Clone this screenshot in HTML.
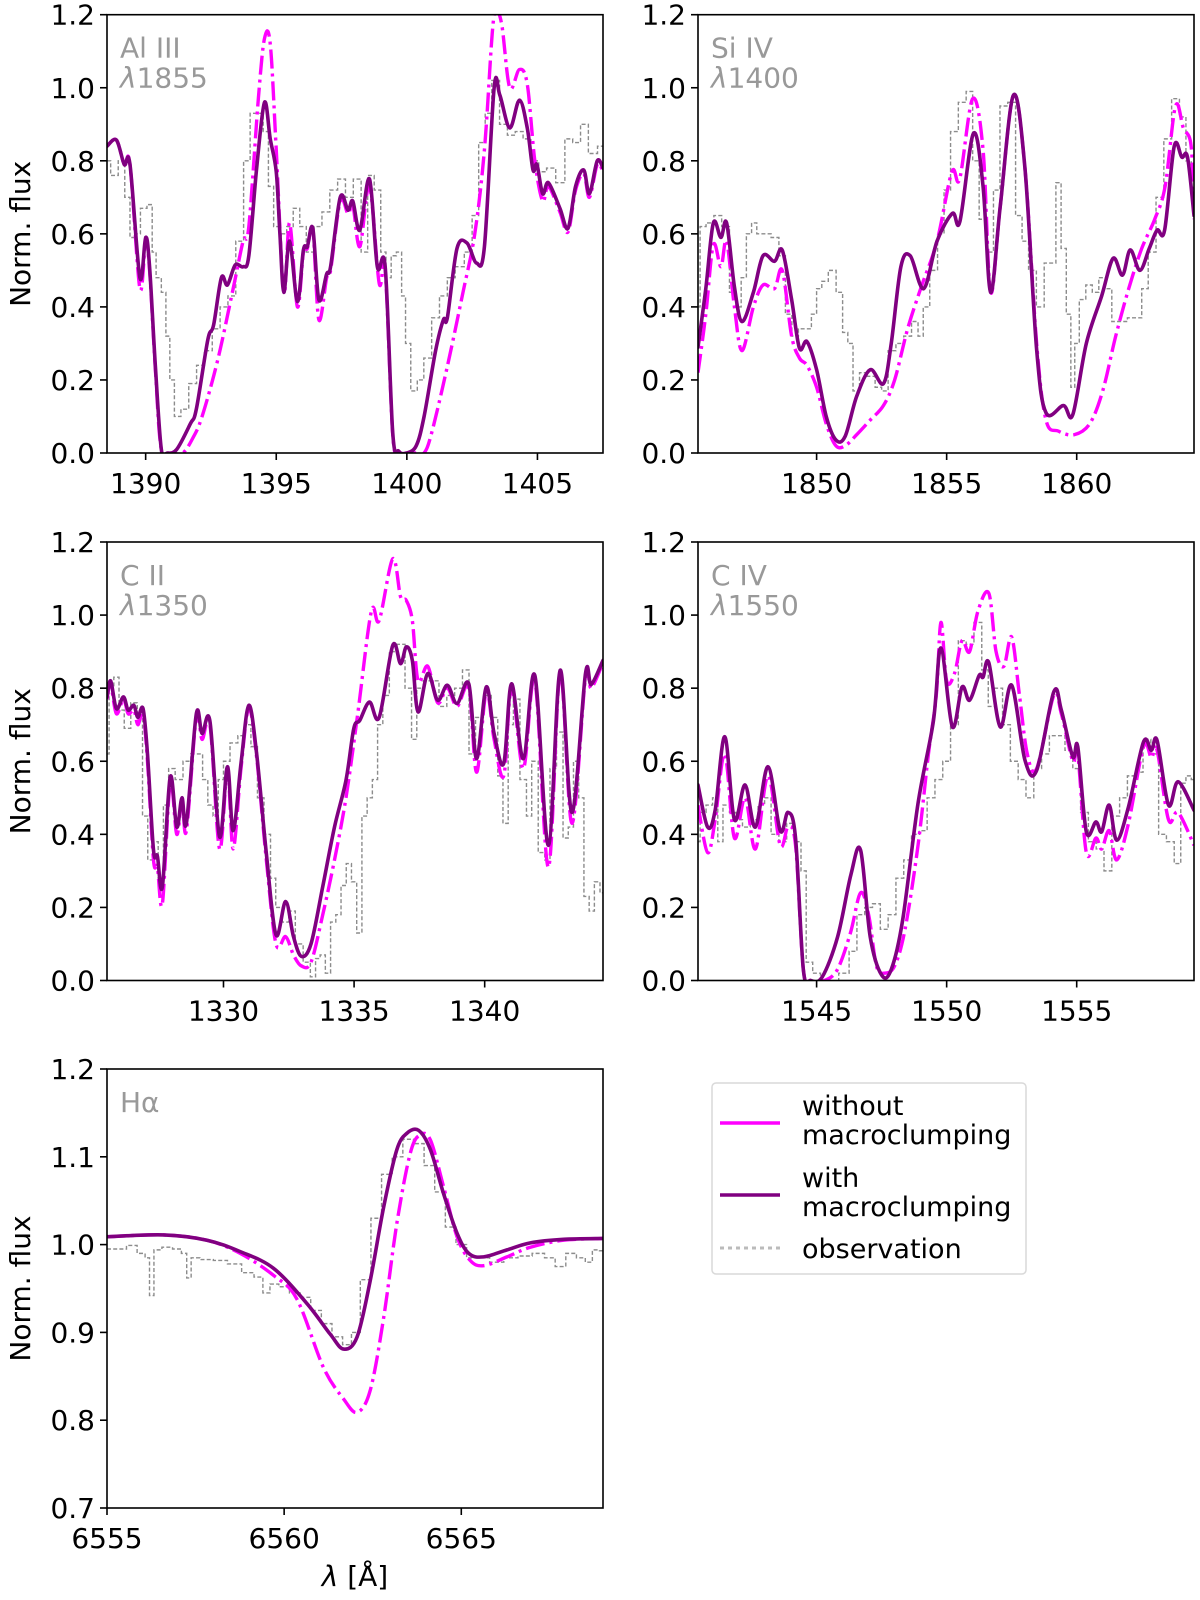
<!DOCTYPE html>
<html><head><meta charset="utf-8">
<style>
html,body{margin:0;padding:0;background:#fff;}
svg{display:block;font-family:"DejaVu Sans","Liberation Sans",sans-serif;}
</style></head>
<body>
<svg id="fig" width="1200" height="1600" viewBox="0 0 1200 1600" xmlns="http://www.w3.org/2000/svg">
<g id="legend">
<rect x="712" y="1083" width="314" height="191" rx="4" fill="#fff" stroke="#d9d9d9" stroke-width="1.5"/>
<line x1="720" y1="1123" x2="780" y2="1123" stroke="#ff00ff" stroke-width="3.5"/>
<text x="802" y="1115" font-size="27" fill="#000">without</text>
<text x="802" y="1144" font-size="27" fill="#000">macroclumping</text>
<line x1="720" y1="1195" x2="780" y2="1195" stroke="#800080" stroke-width="3.5"/>
<text x="802" y="1187" font-size="27" fill="#000">with</text>
<text x="802" y="1216" font-size="27" fill="#000">macroclumping</text>
<line x1="720" y1="1248" x2="780" y2="1248" stroke="#bbb" stroke-width="3" stroke-dasharray="4,4"/>
<text x="802" y="1258" font-size="27" fill="#000">observation</text>
</g>
<text x="355" y="1586" font-size="28" text-anchor="middle"><tspan font-style="italic">λ</tspan> [Å]</text>
</svg>
<script>
// ---------- Panel 1 ----------
const p1Wave = [1388.52,1388.88,1389.18,1389.4,1389.78,1390.0,1390.15,1390.37,1390.6,1390.82,1391.19,1391.71,1391.94,1392.38,1392.6,1392.9,1393.13,1393.43,1393.73,1393.95,1394.25,1394.55,1394.77,1395.0,1395.14,1395.29,1395.51,1395.81,1396.04,1396.19,1396.4,1396.63,1396.93,1397.08,1397.45,1397.75,1397.93,1398.2,1398.57,1398.87,1399.17,1399.46,1399.69,1399.99,1400.36,1400.66,1401.1,1401.4,1401.55,1401.92,1402.3,1402.67,1402.97,1403.34,1403.56,1403.94,1404.31,1404.61,1404.83,1404.98,1405.2,1405.42,1405.86,1406.17,1406.46,1406.77,1406.99,1407.29,1407.51];
const p1With = [0.84,0.857,0.79,0.79,0.48,0.59,0.51,0.24,0.01,0.0,0.01,0.08,0.12,0.31,0.35,0.48,0.46,0.515,0.51,0.54,0.78,0.96,0.86,0.77,0.60,0.44,0.58,0.415,0.556,0.565,0.615,0.42,0.49,0.51,0.70,0.665,0.69,0.61,0.75,0.51,0.51,0.055,0.005,0.0,0.02,0.10,0.28,0.365,0.37,0.56,0.575,0.52,0.565,0.998,0.98,0.89,0.966,0.89,0.775,0.79,0.71,0.74,0.67,0.615,0.73,0.775,0.71,0.80,0.78];
const p1WaveNo = [1388.52,1388.88,1389.18,1389.4,1389.78,1390.0,1390.15,1390.37,1390.6,1391.0,1391.42,1391.8,1392.16,1392.76,1393.35,1393.73,1393.95,1394.32,1394.55,1394.77,1395.0,1395.29,1395.51,1395.81,1396.04,1396.19,1396.4,1396.63,1396.93,1397.08,1397.45,1397.75,1397.93,1398.2,1398.57,1398.94,1399.17,1399.46,1399.69,1400.0,1400.36,1400.66,1400.95,1401.55,1402.15,1402.6,1402.97,1403.27,1403.42,1403.64,1403.94,1404.31,1404.61,1404.9,1405.2,1405.42,1405.86,1406.17,1406.46,1406.77,1406.99,1407.29,1407.51];
const p1Without = [0.84,0.857,0.79,0.79,0.45,0.58,0.50,0.23,0.01,0.0,0.0,0.04,0.10,0.255,0.45,0.58,0.62,0.975,1.135,1.12,0.83,0.44,0.63,0.40,0.55,0.56,0.61,0.365,0.48,0.50,0.69,0.655,0.68,0.565,0.73,0.465,0.50,0.05,0.0,0.0,0.0,0.0,0.055,0.237,0.44,0.60,0.83,1.15,1.21,1.17,1.0,1.05,1.01,0.80,0.69,0.73,0.66,0.605,0.72,0.765,0.70,0.79,0.77];
const p1ObsWave = [1388.52,1388.8,1389.1,1389.3,1389.5,1389.7,1389.9,1390.2,1390.3,1390.5,1390.7,1390.85,1391.0,1391.2,1391.5,1391.8,1392.1,1392.4,1392.7,1393.0,1393.3,1393.6,1393.9,1394.1,1394.4,1394.6,1394.8,1395.0,1395.3,1395.5,1395.8,1396.0,1396.3,1396.6,1396.9,1397.2,1397.5,1397.8,1398.1,1398.4,1398.6,1398.9,1399.1,1399.3,1399.5,1399.7,1399.9,1400.0,1400.3,1400.5,1400.8,1401.1,1401.4,1401.7,1402.0,1402.4,1402.6,1402.9,1403.1,1403.4,1403.7,1404.0,1404.3,1404.6,1404.9,1405.2,1405.5,1405.9,1406.2,1406.5,1406.8,1407.1,1407.5];
const p1Obs = [0.80,0.76,0.80,0.70,0.59,0.60,0.67,0.68,0.55,0.48,0.44,0.32,0.20,0.10,0.12,0.19,0.24,0.28,0.34,0.40,0.43,0.58,0.80,0.93,0.93,0.88,0.73,0.62,0.60,0.62,0.67,0.62,0.55,0.62,0.66,0.72,0.75,0.70,0.75,0.55,0.76,0.72,0.55,0.48,0.54,0.55,0.43,0.30,0.17,0.20,0.26,0.37,0.43,0.48,0.51,0.55,0.65,0.85,0.93,1.02,0.90,0.87,0.88,0.86,0.80,0.77,0.78,0.74,0.86,0.85,0.90,0.82,0.84];
const p1XTicks = [1390,1395,1400,1405];

// ---------- Panel 2 ----------
const p2Wave = [1845.44,1845.74,1846.03,1846.32,1846.54,1846.84,1847.13,1847.57,1847.94,1848.38,1848.68,1849.04,1849.34,1849.63,1850.0,1850.37,1850.74,1851.1,1851.54,1852.06,1852.57,1852.87,1853.24,1853.6,1854.12,1854.63,1855.22,1855.51,1856.03,1856.4,1856.69,1857.06,1857.57,1858.01,1858.46,1858.82,1859.49,1859.85,1860.37,1860.96,1861.4,1861.76,1862.06,1862.43,1862.79,1863.09,1863.38,1863.75,1864.04,1864.26,1864.51];
const p2With = [0.29,0.45,0.63,0.59,0.63,0.455,0.36,0.44,0.54,0.525,0.555,0.42,0.287,0.305,0.228,0.10,0.036,0.046,0.155,0.228,0.19,0.30,0.51,0.54,0.45,0.58,0.656,0.634,0.875,0.73,0.44,0.675,0.98,0.78,0.283,0.11,0.13,0.105,0.30,0.43,0.533,0.487,0.556,0.50,0.56,0.61,0.61,0.84,0.81,0.81,0.65];
const p2WaveNo = [1845.44,1845.74,1846.03,1846.32,1846.54,1846.84,1847.13,1847.57,1847.94,1848.38,1848.68,1849.04,1849.34,1849.63,1850.0,1850.37,1850.74,1851.1,1851.54,1852.06,1852.57,1853.0,1853.5,1854.0,1854.63,1855.2,1855.5,1856.0,1856.4,1856.69,1857.06,1857.57,1858.01,1858.46,1858.82,1859.3,1859.9,1860.5,1861.0,1861.5,1862.0,1862.5,1863.0,1863.4,1863.8,1864.1,1864.4,1864.51];
const p2Without = [0.22,0.38,0.57,0.51,0.58,0.40,0.28,0.40,0.46,0.45,0.50,0.32,0.26,0.24,0.18,0.08,0.02,0.02,0.05,0.09,0.13,0.20,0.34,0.45,0.58,0.77,0.75,0.97,0.83,0.44,0.675,0.98,0.78,0.30,0.09,0.06,0.05,0.08,0.17,0.32,0.45,0.56,0.64,0.73,0.95,0.89,0.84,0.64];
const p2ObsWave = [1845.44,1845.6,1845.9,1846.2,1846.5,1846.8,1847.0,1847.2,1847.4,1847.6,1847.8,1848.1,1848.4,1848.7,1848.9,1849.2,1849.4,1849.7,1849.9,1850.1,1850.3,1850.6,1850.9,1851.1,1851.3,1851.5,1851.8,1852.1,1852.4,1852.6,1852.9,1853.2,1853.5,1853.8,1854.0,1854.2,1854.5,1854.8,1855.0,1855.3,1855.6,1855.9,1856.1,1856.4,1856.7,1856.9,1857.2,1857.5,1857.8,1858.0,1858.3,1858.6,1858.9,1859.1,1859.3,1859.5,1859.7,1859.85,1860.0,1860.2,1860.5,1860.7,1861.0,1861.2,1861.5,1861.8,1862.1,1862.4,1862.6,1862.9,1863.2,1863.5,1863.8,1864.1,1864.3,1864.51];
const p2Obs = [0.40,0.62,0.63,0.65,0.62,0.44,0.40,0.48,0.60,0.63,0.60,0.60,0.59,0.54,0.38,0.32,0.34,0.34,0.38,0.45,0.47,0.50,0.44,0.33,0.30,0.17,0.22,0.21,0.18,0.17,0.28,0.30,0.32,0.36,0.32,0.40,0.50,0.60,0.72,0.88,0.96,0.99,0.80,0.64,0.55,0.72,0.95,0.96,0.65,0.58,0.50,0.40,0.52,0.52,0.74,0.56,0.38,0.18,0.30,0.42,0.46,0.44,0.48,0.45,0.36,0.36,0.37,0.37,0.45,0.55,0.70,0.86,0.97,0.92,0.80,0.70];
const p2XTicks = [1850,1855,1860];

// ---------- Panel 3 ----------
const p3Wave = [1325.54,1325.68,1325.9,1326.17,1326.35,1326.57,1326.72,1326.92,1327.09,1327.32,1327.47,1327.66,1327.96,1328.21,1328.41,1328.58,1328.96,1329.18,1329.48,1329.85,1330.15,1330.37,1330.67,1330.97,1331.27,1331.64,1332.01,1332.38,1332.68,1332.98,1333.35,1333.8,1334.25,1334.69,1334.99,1335.22,1335.59,1335.96,1336.48,1336.78,1337.0,1337.23,1337.45,1337.82,1338.2,1338.57,1338.94,1339.39,1339.69,1340.06,1340.36,1340.73,1341.03,1341.48,1341.92,1342.44,1342.89,1343.34,1343.86,1344.08,1344.53];
const p3With = [0.776,0.82,0.744,0.776,0.74,0.753,0.72,0.744,0.62,0.357,0.34,0.257,0.557,0.42,0.50,0.43,0.73,0.676,0.71,0.393,0.585,0.41,0.594,0.753,0.62,0.348,0.125,0.216,0.12,0.066,0.10,0.257,0.42,0.548,0.69,0.712,0.762,0.72,0.917,0.867,0.913,0.876,0.735,0.84,0.767,0.808,0.758,0.812,0.607,0.803,0.676,0.594,0.812,0.607,0.835,0.37,0.849,0.46,0.84,0.81,0.876];
const p3WaveNo = [1325.54,1325.68,1325.9,1326.17,1326.35,1326.57,1326.72,1326.92,1327.09,1327.32,1327.47,1327.66,1327.96,1328.21,1328.41,1328.58,1328.96,1329.18,1329.48,1329.85,1330.15,1330.37,1330.67,1330.97,1331.27,1331.64,1332.01,1332.38,1332.68,1332.98,1333.35,1333.8,1334.25,1334.69,1335.14,1335.66,1335.96,1336.48,1336.78,1337.0,1337.23,1337.45,1337.82,1338.2,1338.57,1338.94,1339.39,1339.69,1340.06,1340.36,1340.73,1341.03,1341.48,1341.92,1342.44,1342.89,1343.34,1343.86,1344.08,1344.53];
const p3Without = [0.77,0.81,0.73,0.77,0.73,0.74,0.70,0.73,0.60,0.33,0.31,0.21,0.54,0.40,0.49,0.41,0.72,0.66,0.70,0.36,0.575,0.36,0.58,0.745,0.61,0.33,0.10,0.12,0.07,0.04,0.05,0.18,0.33,0.50,0.73,1.01,0.985,1.154,1.05,1.04,0.985,0.82,0.86,0.76,0.80,0.75,0.80,0.57,0.79,0.66,0.56,0.80,0.58,0.82,0.31,0.84,0.43,0.83,0.80,0.87];
const p3ObsWave = [1325.54,1325.7,1325.9,1326.1,1326.3,1326.6,1326.8,1327.0,1327.2,1327.4,1327.6,1327.8,1328.0,1328.3,1328.6,1328.9,1329.1,1329.3,1329.5,1329.7,1329.9,1330.1,1330.4,1330.7,1330.9,1331.2,1331.4,1331.7,1331.9,1332.1,1332.4,1332.6,1332.9,1333.2,1333.45,1333.6,1333.8,1334.0,1334.2,1334.4,1334.6,1334.8,1335.0,1335.2,1335.4,1335.6,1335.8,1336.0,1336.2,1336.5,1336.8,1337.1,1337.3,1337.5,1337.8,1338.1,1338.4,1338.7,1339.0,1339.3,1339.5,1339.8,1340.1,1340.4,1340.6,1340.8,1341.0,1341.2,1341.5,1341.7,1341.9,1342.2,1342.4,1342.6,1342.9,1343.1,1343.3,1343.5,1343.7,1343.9,1344.1,1344.3,1344.53];
const p3Obs = [0.62,0.80,0.83,0.74,0.69,0.76,0.72,0.45,0.33,0.38,0.28,0.48,0.58,0.55,0.60,0.62,0.62,0.55,0.48,0.45,0.55,0.60,0.65,0.67,0.70,0.64,0.50,0.40,0.28,0.20,0.16,0.19,0.10,0.05,0.01,0.06,0.07,0.02,0.16,0.18,0.26,0.32,0.27,0.13,0.45,0.50,0.55,0.70,0.78,0.90,0.92,0.80,0.66,0.80,0.82,0.82,0.75,0.78,0.80,0.85,0.62,0.72,0.78,0.72,0.56,0.43,0.70,0.77,0.55,0.45,0.60,0.35,0.33,0.58,0.68,0.39,0.42,0.60,0.50,0.23,0.19,0.27,0.24];
const p3XTicks = [1330,1335,1340];

// ---------- Panel 4 ----------
const p4Wave = [1540.44,1540.81,1541.1,1541.47,1541.84,1542.25,1542.65,1543.13,1543.6,1543.9,1544.19,1544.49,1544.78,1545.22,1545.81,1546.32,1546.69,1547.06,1547.5,1547.87,1548.31,1548.9,1549.49,1549.78,1550.22,1550.59,1550.88,1551.25,1551.4,1551.62,1552.06,1552.5,1553.01,1553.46,1554.12,1554.41,1554.85,1555.04,1555.37,1555.74,1555.96,1556.25,1556.54,1556.99,1557.57,1557.87,1558.09,1558.53,1558.9,1559.51];
const p4With = [0.535,0.42,0.466,0.667,0.44,0.535,0.42,0.585,0.41,0.46,0.39,0.03,0.0,0.01,0.12,0.29,0.357,0.12,0.015,0.03,0.166,0.485,0.71,0.91,0.694,0.803,0.767,0.835,0.83,0.87,0.694,0.808,0.603,0.575,0.79,0.74,0.612,0.64,0.407,0.434,0.407,0.48,0.384,0.475,0.653,0.63,0.657,0.48,0.544,0.466];
const p4WaveNo = [1540.44,1540.81,1541.1,1541.47,1541.84,1542.25,1542.65,1543.13,1543.6,1543.9,1544.19,1544.49,1544.78,1545.3,1545.8,1546.3,1546.69,1547.0,1547.3,1547.6,1548.0,1548.4,1548.9,1549.3,1549.6,1549.78,1550.0,1550.3,1550.59,1550.88,1551.2,1551.62,1551.9,1552.2,1552.5,1552.8,1553.1,1553.46,1554.12,1554.41,1554.85,1555.04,1555.37,1555.74,1555.96,1556.25,1556.54,1556.99,1557.57,1557.87,1558.09,1558.53,1558.9,1559.51];
const p4Without = [0.48,0.35,0.44,0.62,0.39,0.50,0.36,0.56,0.37,0.42,0.37,0.03,0.0,0.0,0.03,0.13,0.24,0.18,0.04,0.02,0.04,0.14,0.37,0.62,0.78,0.98,0.82,0.84,0.93,0.90,1.01,1.06,0.90,0.86,0.94,0.78,0.62,0.58,0.78,0.73,0.60,0.62,0.35,0.39,0.36,0.41,0.33,0.43,0.64,0.61,0.63,0.44,0.46,0.37];
const p4ObsWave = [1540.44,1540.6,1540.9,1541.1,1541.3,1541.5,1541.8,1542.0,1542.3,1542.6,1542.9,1543.1,1543.4,1543.7,1544.0,1544.3,1544.5,1544.7,1545.0,1545.3,1545.6,1546.1,1546.4,1546.7,1547.0,1547.3,1547.6,1547.9,1548.2,1548.5,1548.8,1549.1,1549.4,1549.7,1550.0,1550.3,1550.6,1550.9,1551.2,1551.5,1551.7,1552.0,1552.3,1552.6,1552.9,1553.2,1553.5,1553.8,1554.1,1554.4,1554.7,1555.0,1555.3,1555.6,1555.9,1556.2,1556.5,1556.8,1557.1,1557.4,1557.7,1558.0,1558.3,1558.6,1558.9,1559.1,1559.3,1559.51];
const p4Obs = [0.38,0.46,0.48,0.50,0.38,0.48,0.46,0.44,0.42,0.44,0.48,0.50,0.40,0.38,0.43,0.38,0.30,0.05,0.02,0.0,-0.05,0.02,0.08,0.18,0.20,0.21,0.14,0.18,0.28,0.33,0.40,0.41,0.50,0.55,0.60,0.70,0.93,0.92,0.98,0.85,0.75,0.80,0.70,0.60,0.55,0.50,0.58,0.62,0.67,0.67,0.63,0.58,0.46,0.38,0.36,0.30,0.45,0.50,0.56,0.57,0.66,0.62,0.40,0.38,0.32,0.54,0.56,0.55];
const p4XTicks = [1545,1550,1555];

// ---------- Panel 5 ----------
const p5Wave = [6555,6556.6,6557.82,6558.76,6559.7,6560.64,6561.3,6561.68,6562.06,6562.43,6562.81,6563.18,6563.47,6563.8,6564.13,6564.5,6564.88,6565.21,6565.63,6566.29,6566.95,6567.89,6569.0];
const p5With = [1.009,1.011,1.005,0.992,0.973,0.933,0.898,0.881,0.895,0.959,1.043,1.108,1.127,1.13,1.108,1.058,1.013,0.99,0.986,0.994,1.002,1.006,1.007];
const p5WaveNo = [6555,6556.6,6557.82,6558.76,6559.7,6560.36,6561.11,6561.68,6562.06,6562.43,6562.81,6563.18,6563.56,6563.84,6564.13,6564.5,6564.88,6565.25,6565.63,6566.29,6566.95,6567.89,6569.0];
const p5Without = [1.009,1.011,1.005,0.99,0.965,0.938,0.86,0.824,0.809,0.834,0.917,1.024,1.104,1.125,1.119,1.066,1.009,0.982,0.976,0.986,0.997,1.005,1.007];
const p5ObsWave = [6555.0,6555.4,6555.7,6556.0,6556.15,6556.25,6556.4,6556.7,6557.0,6557.2,6557.3,6557.45,6557.8,6558.2,6558.6,6559.0,6559.3,6559.5,6559.7,6560.0,6560.3,6560.6,6560.9,6561.2,6561.5,6561.8,6562.0,6562.3,6562.6,6562.9,6563.2,6563.5,6563.8,6564.1,6564.4,6564.7,6565.0,6565.3,6565.6,6566.0,6566.4,6566.8,6567.2,6567.5,6567.8,6568.1,6568.4,6568.6,6568.8,6569.0];
const p5Obs = [0.995,0.995,0.999,0.99,0.985,0.942,0.994,0.997,0.995,0.99,0.962,0.985,0.983,0.982,0.978,0.968,0.963,0.945,0.955,0.952,0.945,0.94,0.925,0.91,0.895,0.886,0.9,0.96,1.03,1.08,1.1,1.12,1.115,1.09,1.06,1.02,1.0,0.985,0.985,0.98,0.985,0.987,0.99,0.985,0.975,0.99,0.985,0.98,0.994,0.993];
const p5XTicks = [6555,6560,6565];

const yTicksUV = [0.0,0.2,0.4,0.6,0.8,1.0,1.2];
const yTicksHa = [0.7,0.8,0.9,1.0,1.1,1.2];

const NS = 'http://www.w3.org/2000/svg';
const svg = document.getElementById('fig');
function mk(tag, attrs, parent){
  const e = document.createElementNS(NS, tag);
  for (const k in attrs) e.setAttribute(k, attrs[k]);
  (parent||svg).appendChild(e);
  return e;
}
function smoothPath(pts){
  if (pts.length < 2) return '';
  let d = 'M' + pts[0][0].toFixed(2) + ',' + pts[0][1].toFixed(2);
  for (let i = 0; i < pts.length - 1; i++){
    const p0 = pts[i-1] || pts[i], p1 = pts[i], p2 = pts[i+1], p3 = pts[i+2] || p2;
    const t = 6;
    const c1x = p1[0] + (p2[0]-p0[0])/t, c1y = p1[1] + (p2[1]-p0[1])/t;
    const c2x = p2[0] - (p3[0]-p1[0])/t, c2y = p2[1] - (p3[1]-p1[1])/t;
    d += 'C' + c1x.toFixed(2)+','+c1y.toFixed(2)+' '+c2x.toFixed(2)+','+c2y.toFixed(2)+' '+p2[0].toFixed(2)+','+p2[1].toFixed(2);
  }
  return d;
}
function stepPath(xs, ys, sx, sy){
  let d = '';
  for (let i = 0; i < xs.length; i++){
    const xl = i === 0 ? sx(xs[0]) : (sx(xs[i-1]) + sx(xs[i]))/2;
    const xr = i === xs.length-1 ? sx(xs[i]) : (sx(xs[i]) + sx(xs[i+1]))/2;
    const y = sy(ys[i]);
    d += (i === 0 ? 'M' : 'L') + xl.toFixed(2) + ',' + y.toFixed(2) + 'L' + xr.toFixed(2) + ',' + y.toFixed(2);
  }
  return d;
}

let clipId = 0;
function panel(cfg){
  const {x0,x1,y0,y1,xmin,xmax,ymin,ymax,xticks,yticks,ydec,name,label1,label2,ylabel,wave,withF,waveNo,withoutF,obsWave,obsF} = cfg;
  const sx = v => x0 + (v - xmin) / (xmax - xmin) * (x1 - x0);
  const sy = v => y1 - (v - ymin) / (ymax - ymin) * (y1 - y0);
  const g = mk('g', {});
  
  
  const cid = 'clip' + (clipId++);
  const cp = mk('clipPath', {id: cid}, g);
  mk('rect', {x: x0, y: y0, width: x1-x0, height: y1-y0}, cp);
  const data = mk('g', {'clip-path': 'url(#' + cid + ')'}, g);

  const obs = mk('path', {d: stepPath(obsWave, obsF, sx, sy), fill: 'none', stroke: '#8c8c8c', 'stroke-width': 1.4, 'stroke-dasharray': '4,2.2'}, data);
  
  

  const ptsNo = waveNo.map((w,i) => [sx(w), sy(withoutF[i])]);
  const no = mk('path', {d: smoothPath(ptsNo), fill: 'none', stroke: '#ff00ff', 'stroke-width': 3.4, 'stroke-dasharray': '19,5,3,5', 'stroke-linejoin': 'round'}, data);
  
  

  const ptsW = wave.map((w,i) => [sx(w), sy(withF[i])]);
  const wl = mk('path', {d: smoothPath(ptsW), fill: 'none', stroke: '#800080', 'stroke-width': 3.6, 'stroke-linejoin': 'round', 'stroke-linecap': 'round'}, data);
  
  

  const frame = mk('rect', {x: x0, y: y0, width: x1-x0, height: y1-y0, fill: 'none', stroke: '#000', 'stroke-width': 1.6}, g);
  
  

  xticks.forEach(t => {
    const X = sx(t);
    mk('line', {x1: X, y1: y1, x2: X, y2: y1+7, stroke: '#000', 'stroke-width': 1.6}, g);
    const tl = mk('text', {x: X, y: y1+40, 'font-size': 28, 'text-anchor': 'middle'}, g);
    tl.textContent = String(t);
    
    
  });
  yticks.forEach(t => {
    const Y = sy(t);
    mk('line', {x1: x0-7, y1: Y, x2: x0, y2: Y, stroke: '#000', 'stroke-width': 1.6}, g);
    const tl = mk('text', {x: x0-12, y: Y+10, 'font-size': 28, 'text-anchor': 'end'}, g);
    tl.textContent = t.toFixed(ydec);
    
    
  });
  const l1 = mk('text', {x: x0+13, y: y0+43, 'font-size': 28, fill: '#999'}, g);
  l1.textContent = label1;
  
  
  if (label2){
    const l2 = mk('text', {x: x0+13, y: y0+73, 'font-size': 28, fill: '#999'}, g);
    const ts = mk('tspan', {'font-style': 'italic'}, l2);
    ts.textContent = 'λ';
    l2.appendChild(document.createTextNode(label2));
    
    
  }
  if (ylabel){
    const cy = (y0 + y1) / 2;
    const yl = mk('text', {x: 20, y: cy, 'font-size': 28, 'text-anchor': 'middle', transform: 'rotate(-90 20 ' + cy + ')', dy: '10'}, g);
    yl.textContent = 'Norm. flux';
    
    
  }
}

panel({x0:107,x1:603,y0:14.7,y1:453,xmin:1388.52,xmax:1407.51,ymin:0,ymax:1.2,xticks:p1XTicks,yticks:yTicksUV,ydec:1,name:'panel-al-iii',label1:'Al III',label2:'1855',ylabel:true,wave:p1Wave,withF:p1With,waveNo:p1WaveNo,withoutF:p1Without,obsWave:p1ObsWave,obsF:p1Obs});
panel({x0:698,x1:1194,y0:14.7,y1:453,xmin:1845.44,xmax:1864.51,ymin:0,ymax:1.2,xticks:p2XTicks,yticks:yTicksUV,ydec:1,name:'panel-si-iv',label1:'Si IV',label2:'1400',ylabel:false,wave:p2Wave,withF:p2With,waveNo:p2WaveNo,withoutF:p2Without,obsWave:p2ObsWave,obsF:p2Obs});
panel({x0:107,x1:603,y0:542,y1:980.5,xmin:1325.54,xmax:1344.53,ymin:0,ymax:1.2,xticks:p3XTicks,yticks:yTicksUV,ydec:1,name:'panel-c-ii',label1:'C II',label2:'1350',ylabel:true,wave:p3Wave,withF:p3With,waveNo:p3WaveNo,withoutF:p3Without,obsWave:p3ObsWave,obsF:p3Obs});
panel({x0:698,x1:1194,y0:542,y1:980.5,xmin:1540.44,xmax:1559.51,ymin:0,ymax:1.2,xticks:p4XTicks,yticks:yTicksUV,ydec:1,name:'panel-c-iv',label1:'C IV',label2:'1550',ylabel:false,wave:p4Wave,withF:p4With,waveNo:p4WaveNo,withoutF:p4Without,obsWave:p4ObsWave,obsF:p4Obs});
panel({x0:107,x1:603,y0:1069,y1:1508,xmin:6555,xmax:6569,ymin:0.7,ymax:1.2,xticks:p5XTicks,yticks:yTicksHa,ydec:1,name:'panel-h-alpha',label1:'Hα',label2:null,ylabel:true,wave:p5Wave,withF:p5With,waveNo:p5WaveNo,withoutF:p5Without,obsWave:p5ObsWave,obsF:p5Obs});
</script>
</body></html>
